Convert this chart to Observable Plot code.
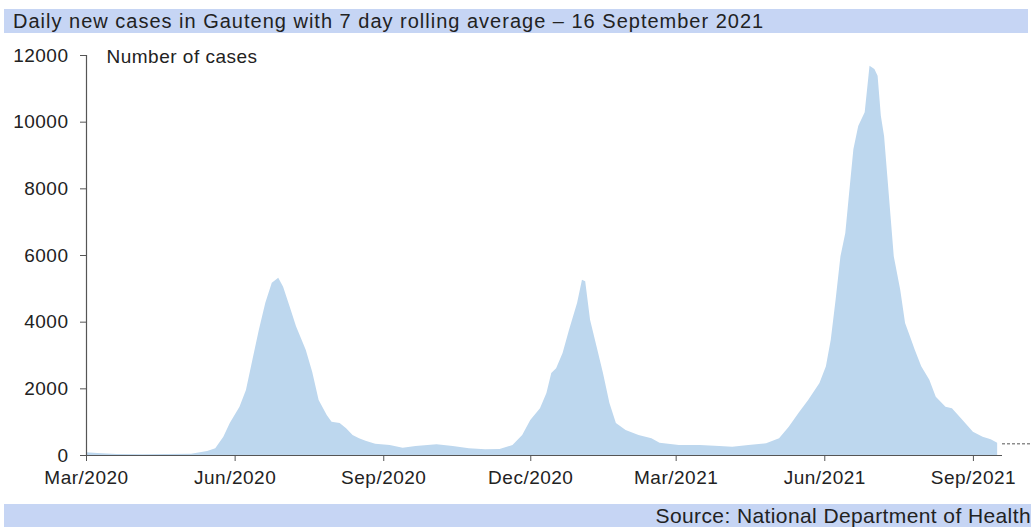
<!DOCTYPE html>
<html>
<head>
<meta charset="utf-8">
<script src="https://cdn.jsdelivr.net/npm/d3@7"></script>
<script src="https://cdn.jsdelivr.net/npm/@observablehq/plot@0.6"></script>
<style>
  html, body { margin: 0; padding: 0; background: #fff; overflow: hidden; }
  body { width: 1031px; height: 527px; padding-top: 9px; box-sizing: border-box; }
  .bar { background: #c6d5f4; color: #222; font-family: "Liberation Sans", Arial, sans-serif; white-space: nowrap; box-sizing: border-box; }
  #title { margin-left: 4px; width: 1024px; height: 24px; font-size: 20px; line-height: 24px; letter-spacing: 1px; padding-left: 9px; }
  #source { margin-left: 4px; width: 1027px; height: 23px; font-size: 21px; line-height: 23px; letter-spacing: 0.4px; text-align: right; padding-right: 0; }
  #chart svg { display: block; }
</style>
</head>
<body>
<div id="title" class="bar">Daily new cases in Gauteng with 7 day rolling average – 16 September 2021</div>
<div id="chart"></div>
<div id="source" class="bar">Source: National Department of Health</div>
<script>
// ---- data ----
const dates = [
  "2020-03-01","2020-03-08","2020-03-20","2020-04-05","2020-04-20","2020-05-05","2020-05-15","2020-05-20",
  "2020-05-25","2020-05-29","2020-06-04","2020-06-08","2020-06-12","2020-06-16","2020-06-20","2020-06-24",
  "2020-06-28","2020-07-01","2020-07-05","2020-07-09","2020-07-15","2020-07-19","2020-07-23","2020-07-28",
  "2020-07-31","2020-08-05","2020-08-09","2020-08-13","2020-08-17","2020-08-21","2020-08-27","2020-09-05",
  "2020-09-13","2020-09-21","2020-10-04","2020-10-14","2020-10-24","2020-11-03","2020-11-12","2020-11-20",
  "2020-11-26","2020-12-01","2020-12-07","2020-12-11","2020-12-14","2020-12-17","2020-12-21","2020-12-25",
  "2020-12-30","2021-01-02","2021-01-04","2021-01-07","2021-01-11","2021-01-15","2021-01-19","2021-01-23",
  "2021-01-29","2021-02-06","2021-02-14","2021-02-19","2021-03-03","2021-03-16","2021-03-28","2021-04-05",
  "2021-04-15","2021-04-26","2021-05-04","2021-05-10","2021-05-16","2021-05-22","2021-05-29","2021-06-02",
  "2021-06-05","2021-06-08","2021-06-11","2021-06-14","2021-06-16","2021-06-19","2021-06-22","2021-06-26",
  "2021-06-29","2021-07-02","2021-07-04","2021-07-06","2021-07-08","2021-07-10","2021-07-12","2021-07-14",
  "2021-07-18","2021-07-21","2021-07-24","2021-07-27","2021-07-31","2021-08-05","2021-08-09","2021-08-15",
  "2021-08-19","2021-08-25","2021-09-01","2021-09-07","2021-09-12","2021-09-16"
];
const cases = [
  80, 60, 30, 25, 30, 40, 120, 200,
  550, 960, 1450, 1950, 2860, 3760, 4570, 5170,
  5320, 5050, 4460, 3860, 3160, 2500, 1650, 1200,
  1000, 960, 800, 600, 500, 430, 340, 300,
  220, 270, 320, 270, 200, 170, 180, 300,
  600, 1050, 1400, 1860, 2460, 2600, 3060, 3760,
  4570, 5260, 5210, 4060, 3260, 2460, 1560, 960,
  750, 600, 500, 370, 300, 300, 270, 250,
  300, 350, 500, 850, 1260, 1650, 2160, 2660,
  3460, 4660, 5960, 6660, 7670, 9170, 9870, 10280,
  11680, 11580, 11380, 10180, 9570, 8370, 7170, 5960,
  4960, 3960, 3560, 3160, 2660, 2260, 1750, 1450,
  1400, 1080, 700, 550, 470, 370
];
const yTicks = [0, 2000, 4000, 6000, 8000, 10000, 12000];
const xTickDates = ["2020-03-01","2020-06-01","2020-09-01","2020-12-01","2021-03-01","2021-06-01","2021-09-01"];
const xTickLabels = ["Mar/2020","Jun/2020","Sep/2020","Dec/2020","Mar/2021","Jun/2021","Sep/2021"];
const xDomain = ["2020-03-01", "2021-09-19"];
const yDomain = [0, 12000];
const yTitle = "Number of cases";
const latestValue = 350;

// ---- build ----
const rows = dates.map((d, i) => ({date: new Date(d), cases: cases[i]}));
const xTicks = xTickDates.map(d => new Date(d));
const labelOf = d => xTickLabels[xTicks.findIndex(t => +t === +d)];
const xd = xDomain.map(d => new Date(d));

const chart = Plot.plot({
  width: 1031,
  height: 471,
  marginLeft: 86,
  marginRight: 29,
  marginTop: 22,
  marginBottom: 49,
  style: {fontFamily: '"Liberation Sans", Arial, sans-serif', fontSize: "19px", letterSpacing: "0.5px", color: "#222", background: "transparent", overflow: "visible"},
  x: {type: "utc", domain: xd},
  y: {domain: yDomain},
  marks: [
    Plot.areaY(rows, {x: "date", y: "cases", fill: "#bdd7ee", curve: "linear"}),
    Plot.ruleY([0], {stroke: "#555", strokeWidth: 1.2}),
    Plot.ruleX([xd[0]], {y1: yDomain[0], y2: yDomain[1], stroke: "#555", strokeWidth: 1.2}),
    Plot.axisY({ticks: yTicks, tickSize: 6, tickPadding: 12, tickFormat: d => String(d), label: null, stroke: "#555", fill: "#222"}),
    Plot.axisX({ticks: xTicks, tickSize: 6, tickPadding: 9, tickFormat: labelOf, label: null, stroke: "#555", fill: "#222"}),
    Plot.ruleY([latestValue], {x1: xd[1], x2: d3.utcDay.offset(xd[1], 20), stroke: "#555", strokeDasharray: "3,2"}),
    Plot.text([yTitle], {frameAnchor: "top-left", textAnchor: "start", lineAnchor: "middle", dx: 20, dy: 1, fill: "#222"})
  ]
});
document.getElementById("chart").appendChild(chart);
</script>
</body>
</html>
